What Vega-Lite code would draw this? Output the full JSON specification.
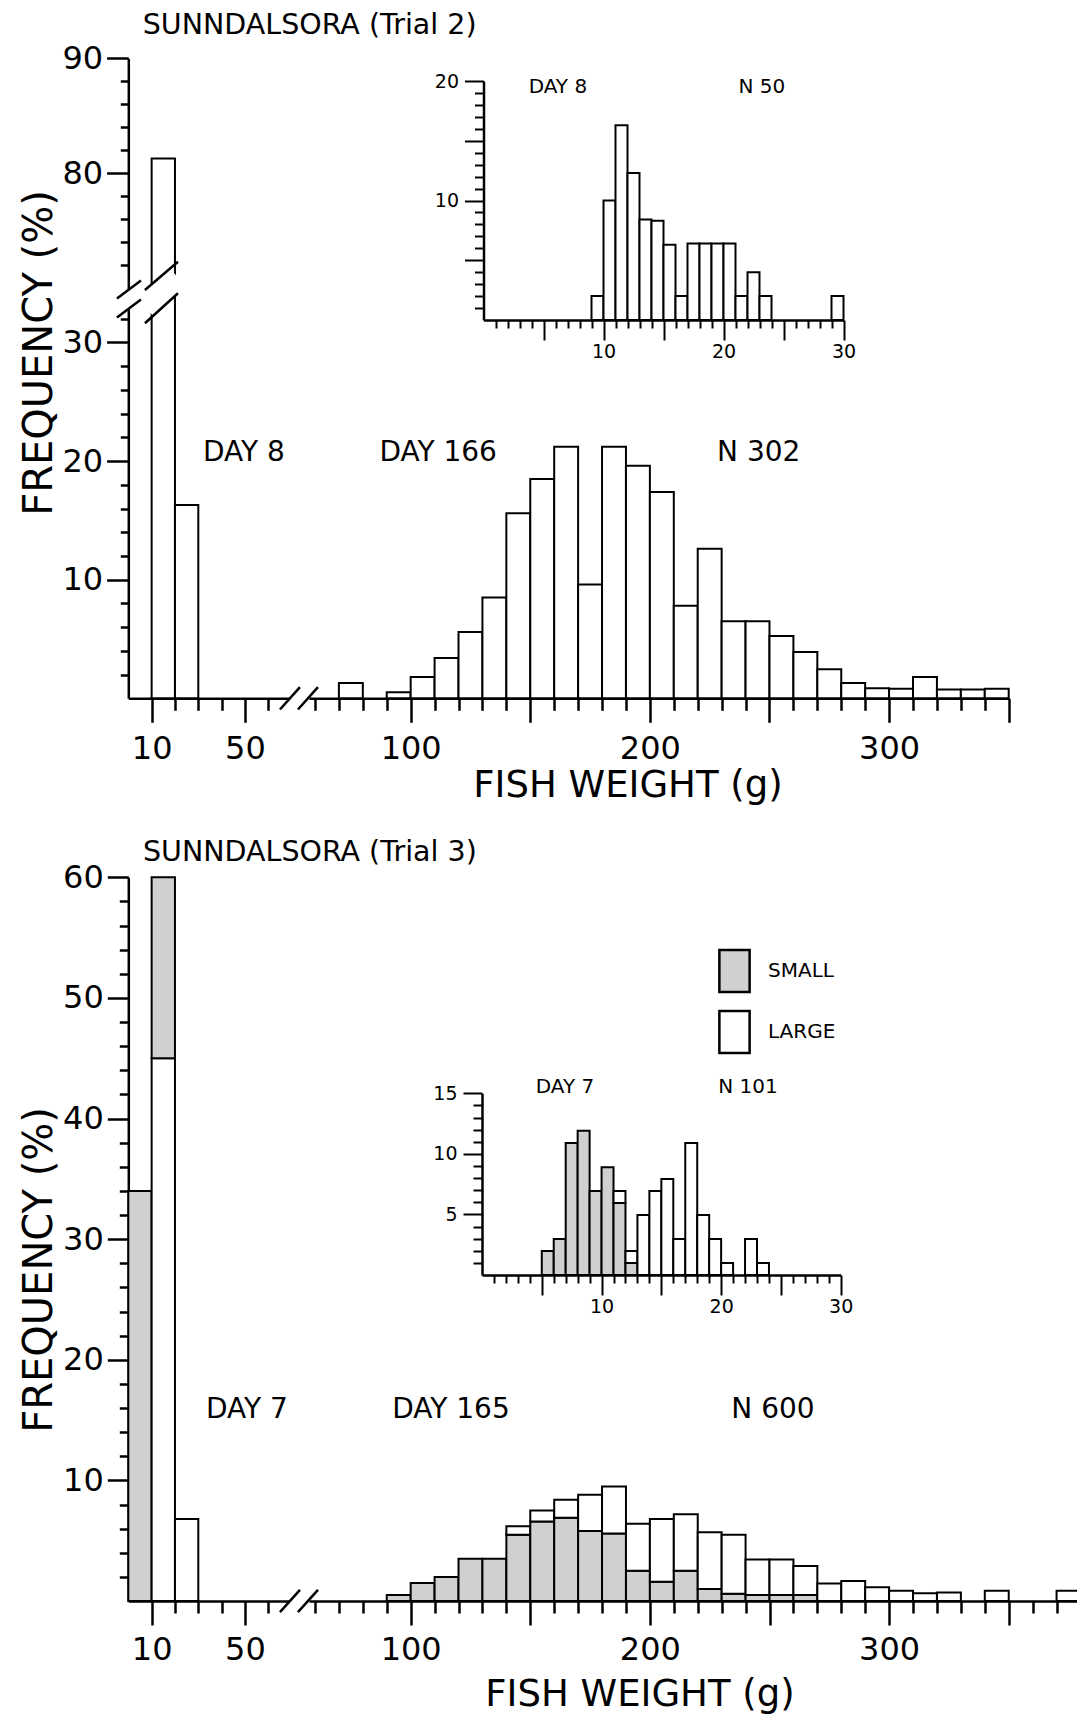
{
  "$schema": "https://vega.github.io/schema/vega-lite/v6.json",
  "width": 1077,
  "height": 1717,
  "autosize": "none",
  "padding": 0,
  "background": "white",
  "config": {
    "view": {"stroke": null},
    "font": "DejaVu Sans",
    "axis": {"domainColor": "black", "domainWidth": 2.5, "tickColor": "black", "tickWidth": 2.5, "labelColor": "black", "labelFont": "DejaVu Sans", "grid": false, "labelFlush": false, "labelOverlap": false, "labelBound": false}
  },
  "datasets": {
    "t2": [
      {"w0": 10, "w1": 20, "pct": 81.3},
      {"w0": 20, "w1": 30, "pct": 16.3},
      {"w0": 70, "w1": 80, "pct": 1.3},
      {"w0": 90, "w1": 100, "pct": 0.5},
      {"w0": 100, "w1": 110, "pct": 1.8},
      {"w0": 110, "w1": 120, "pct": 3.4},
      {"w0": 120, "w1": 130, "pct": 5.6},
      {"w0": 130, "w1": 140, "pct": 8.5},
      {"w0": 140, "w1": 150, "pct": 15.6},
      {"w0": 150, "w1": 160, "pct": 18.5},
      {"w0": 160, "w1": 170, "pct": 21.2},
      {"w0": 170, "w1": 180, "pct": 9.6},
      {"w0": 180, "w1": 190, "pct": 21.2},
      {"w0": 190, "w1": 200, "pct": 19.6},
      {"w0": 200, "w1": 210, "pct": 17.4},
      {"w0": 210, "w1": 220, "pct": 7.8},
      {"w0": 220, "w1": 230, "pct": 12.6},
      {"w0": 230, "w1": 240, "pct": 6.5},
      {"w0": 240, "w1": 250, "pct": 6.5},
      {"w0": 250, "w1": 260, "pct": 5.25},
      {"w0": 260, "w1": 270, "pct": 3.9},
      {"w0": 270, "w1": 280, "pct": 2.45},
      {"w0": 280, "w1": 290, "pct": 1.3},
      {"w0": 290, "w1": 300, "pct": 0.85},
      {"w0": 300, "w1": 310, "pct": 0.8},
      {"w0": 310, "w1": 320, "pct": 1.8},
      {"w0": 320, "w1": 330, "pct": 0.75},
      {"w0": 330, "w1": 340, "pct": 0.75},
      {"w0": 340, "w1": 350, "pct": 0.8}
    ],
    "t2in": [
      {"w0": 9, "w1": 10, "pct": 2},
      {"w0": 10, "w1": 11, "pct": 10},
      {"w0": 11, "w1": 12, "pct": 16.3},
      {"w0": 12, "w1": 13, "pct": 12.3},
      {"w0": 13, "w1": 14, "pct": 8.4},
      {"w0": 14, "w1": 15, "pct": 8.3},
      {"w0": 15, "w1": 16, "pct": 6.3},
      {"w0": 16, "w1": 17, "pct": 2},
      {"w0": 17, "w1": 18, "pct": 6.4},
      {"w0": 18, "w1": 19, "pct": 6.4},
      {"w0": 19, "w1": 20, "pct": 6.4},
      {"w0": 20, "w1": 21, "pct": 6.4},
      {"w0": 21, "w1": 22, "pct": 2},
      {"w0": 22, "w1": 23, "pct": 4},
      {"w0": 23, "w1": 24, "pct": 2},
      {"w0": 29, "w1": 30, "pct": 2}
    ],
    "t3": [
      {"w0": 0, "w1": 10, "grp": "SMALL", "lo": 0, "hi": 34},
      {"w0": 10, "w1": 20, "grp": "LARGE", "lo": 0, "hi": 45},
      {"w0": 10, "w1": 20, "grp": "SMALL", "lo": 45, "hi": 60},
      {"w0": 20, "w1": 30, "grp": "LARGE", "lo": 0, "hi": 6.8},
      {"w0": 90, "w1": 100, "grp": "SMALL", "lo": 0, "hi": 0.5},
      {"w0": 100, "w1": 110, "grp": "SMALL", "lo": 0, "hi": 1.5},
      {"w0": 110, "w1": 120, "grp": "SMALL", "lo": 0, "hi": 2.0},
      {"w0": 120, "w1": 130, "grp": "SMALL", "lo": 0, "hi": 3.5},
      {"w0": 130, "w1": 140, "grp": "SMALL", "lo": 0, "hi": 3.5},
      {"w0": 140, "w1": 150, "grp": "SMALL", "lo": 0, "hi": 5.5},
      {"w0": 140, "w1": 150, "grp": "LARGE", "lo": 5.5, "hi": 6.2},
      {"w0": 150, "w1": 160, "grp": "SMALL", "lo": 0, "hi": 6.6},
      {"w0": 150, "w1": 160, "grp": "LARGE", "lo": 6.6, "hi": 7.5},
      {"w0": 160, "w1": 170, "grp": "SMALL", "lo": 0, "hi": 6.9},
      {"w0": 160, "w1": 170, "grp": "LARGE", "lo": 6.9, "hi": 8.4},
      {"w0": 170, "w1": 180, "grp": "SMALL", "lo": 0, "hi": 5.8},
      {"w0": 170, "w1": 180, "grp": "LARGE", "lo": 5.8, "hi": 8.8},
      {"w0": 180, "w1": 190, "grp": "SMALL", "lo": 0, "hi": 5.6},
      {"w0": 180, "w1": 190, "grp": "LARGE", "lo": 5.6, "hi": 9.5},
      {"w0": 190, "w1": 200, "grp": "SMALL", "lo": 0, "hi": 2.5},
      {"w0": 190, "w1": 200, "grp": "LARGE", "lo": 2.5, "hi": 6.4},
      {"w0": 200, "w1": 210, "grp": "SMALL", "lo": 0, "hi": 1.6},
      {"w0": 200, "w1": 210, "grp": "LARGE", "lo": 1.6, "hi": 6.8},
      {"w0": 210, "w1": 220, "grp": "SMALL", "lo": 0, "hi": 2.5},
      {"w0": 210, "w1": 220, "grp": "LARGE", "lo": 2.5, "hi": 7.2},
      {"w0": 220, "w1": 230, "grp": "SMALL", "lo": 0, "hi": 1.0},
      {"w0": 220, "w1": 230, "grp": "LARGE", "lo": 1.0, "hi": 5.7},
      {"w0": 230, "w1": 240, "grp": "SMALL", "lo": 0, "hi": 0.6},
      {"w0": 230, "w1": 240, "grp": "LARGE", "lo": 0.6, "hi": 5.5},
      {"w0": 240, "w1": 250, "grp": "SMALL", "lo": 0, "hi": 0.5},
      {"w0": 240, "w1": 250, "grp": "LARGE", "lo": 0.5, "hi": 3.45},
      {"w0": 250, "w1": 260, "grp": "SMALL", "lo": 0, "hi": 0.5},
      {"w0": 250, "w1": 260, "grp": "LARGE", "lo": 0.5, "hi": 3.45},
      {"w0": 260, "w1": 270, "grp": "SMALL", "lo": 0, "hi": 0.5},
      {"w0": 260, "w1": 270, "grp": "LARGE", "lo": 0.5, "hi": 2.9},
      {"w0": 270, "w1": 280, "grp": "LARGE", "lo": 0, "hi": 1.45},
      {"w0": 280, "w1": 290, "grp": "LARGE", "lo": 0, "hi": 1.65},
      {"w0": 290, "w1": 300, "grp": "LARGE", "lo": 0, "hi": 1.15},
      {"w0": 300, "w1": 310, "grp": "LARGE", "lo": 0, "hi": 0.85},
      {"w0": 310, "w1": 320, "grp": "LARGE", "lo": 0, "hi": 0.65},
      {"w0": 320, "w1": 330, "grp": "LARGE", "lo": 0, "hi": 0.7},
      {"w0": 340, "w1": 350, "grp": "LARGE", "lo": 0, "hi": 0.85},
      {"w0": 370, "w1": 380, "grp": "LARGE", "lo": 0, "hi": 0.85}
    ],
    "t3in": [
      {"w0": 5, "w1": 6, "grp": "SMALL", "lo": 0, "hi": 1.98},
      {"w0": 6, "w1": 7, "grp": "SMALL", "lo": 0, "hi": 2.97},
      {"w0": 7, "w1": 8, "grp": "SMALL", "lo": 0, "hi": 10.9},
      {"w0": 8, "w1": 9, "grp": "SMALL", "lo": 0, "hi": 11.9},
      {"w0": 9, "w1": 10, "grp": "SMALL", "lo": 0, "hi": 6.93},
      {"w0": 10, "w1": 11, "grp": "SMALL", "lo": 0, "hi": 8.9},
      {"w0": 11, "w1": 12, "grp": "SMALL", "lo": 0, "hi": 5.94},
      {"w0": 11, "w1": 12, "grp": "LARGE", "lo": 5.94, "hi": 6.93},
      {"w0": 12, "w1": 13, "grp": "SMALL", "lo": 0, "hi": 0.99},
      {"w0": 12, "w1": 13, "grp": "LARGE", "lo": 0.99, "hi": 1.98},
      {"w0": 13, "w1": 14, "grp": "LARGE", "lo": 0, "hi": 4.95},
      {"w0": 14, "w1": 15, "grp": "LARGE", "lo": 0, "hi": 6.93},
      {"w0": 15, "w1": 16, "grp": "LARGE", "lo": 0, "hi": 7.92},
      {"w0": 16, "w1": 17, "grp": "LARGE", "lo": 0, "hi": 2.97},
      {"w0": 17, "w1": 18, "grp": "LARGE", "lo": 0, "hi": 10.9},
      {"w0": 18, "w1": 19, "grp": "LARGE", "lo": 0, "hi": 4.95},
      {"w0": 19, "w1": 20, "grp": "LARGE", "lo": 0, "hi": 2.97},
      {"w0": 20, "w1": 21, "grp": "LARGE", "lo": 0, "hi": 0.99},
      {"w0": 22, "w1": 23, "grp": "LARGE", "lo": 0, "hi": 2.97},
      {"w0": 23, "w1": 24, "grp": "LARGE", "lo": 0, "hi": 0.99}
    ]
  },
  "layer": [
    {
      "data": {"name": "t2"},
      "transform": [{"filter": "datum.w1 <= 60"}],
      "mark": {"type": "rect", "fill": "white", "stroke": "black", "strokeWidth": 2},
      "encoding": {
        "x": {"field": "w0", "type": "quantitative", "scale": {"domain": [0, 69], "range": [128.3, 289.3], "nice": false, "zero": false},
          "axis": {"orient": "bottom", "offset": -1018.7, "title": null, "values": [10, 20, 30, 40, 50, 60],
            "tickSize": {"condition": {"test": "datum.value === 10 || datum.value === 50", "value": 24}, "value": 12},
            "labelExpr": "datum.value === 10 || datum.value === 50 ? datum.label : ''", "labelFontSize": 32, "labelPadding": 11}},
        "x2": {"field": "w1"},
        "y": {"field": "pct", "type": "quantitative", "scale": {"domain": [0, 34.13], "range": [698.3, 293.5], "clamp": true, "nice": false, "zero": false},
          "axis": {"orient": "left", "offset": -128.3, "title": null, "values": [2, 4, 6, 8, 10, 12, 14, 16, 18, 20, 22, 24, 26, 28, 30, 32],
            "tickSize": {"condition": {"test": "datum.value % 10 === 0", "value": 21.7}, "value": 8},
            "labelExpr": "datum.value % 10 === 0 ? datum.label : ''", "labelFontSize": 32, "labelPadding": 4}},
        "y2": {"datum": 0}
      }
    },
    {
      "data": {"name": "t2"},
      "transform": [{"filter": "datum.w1 <= 60 && datum.pct > 40"}],
      "mark": {"type": "rect", "fill": "white", "stroke": "black", "strokeWidth": 2},
      "encoding": {
        "x": {"field": "w0", "type": "quantitative", "scale": {"domain": [0, 69], "range": [128.3, 289.3], "nice": false, "zero": false}, "axis": null},
        "x2": {"field": "w1"},
        "y": {"field": "pct", "type": "quantitative", "scale": {"domain": [70, 90], "range": [288.5, 58.3], "clamp": true, "nice": false, "zero": false},
          "axis": {"orient": "left", "offset": -128.3, "title": null, "values": [72, 74, 76, 78, 80, 82, 84, 86, 88, 90],
            "tickSize": {"condition": {"test": "datum.value % 10 === 0", "value": 21.7}, "value": 8},
            "labelExpr": "datum.value % 10 === 0 ? datum.label : ''", "labelFontSize": 32, "labelPadding": 4}},
        "y2": {"datum": 0}
      }
    },
    {
      "data": {"name": "t2"},
      "transform": [{"filter": "datum.w0 >= 60"}],
      "mark": {"type": "rect", "fill": "white", "stroke": "black", "strokeWidth": 2},
      "encoding": {
        "x": {"field": "w0", "type": "quantitative", "scale": {"domain": [57.5, 350], "range": [309.0, 1008.7], "nice": false, "zero": false},
          "axis": {"orient": "bottom", "offset": -1018.7, "title": null, "values": [60, 70, 80, 90, 100, 110, 120, 130, 140, 150, 160, 170, 180, 190, 200, 210, 220, 230, 240, 250, 260, 270, 280, 290, 300, 310, 320, 330, 340, 350],
            "tickSize": {"condition": {"test": "datum.value % 50 === 0", "value": 24}, "value": 12},
            "labelExpr": "datum.value % 100 === 0 ? datum.label : ''", "labelFontSize": 32, "labelPadding": 11}},
        "x2": {"field": "w1"},
        "y": {"field": "pct", "type": "quantitative", "scale": {"domain": [0, 34.13], "range": [698.3, 293.5], "nice": false, "zero": false}, "axis": null},
        "y2": {"datum": 0}
      }
    },
    {
      "data": {"values": [{}]},
      "encoding": {
        "x": {"datum": 0, "type": "quantitative", "scale": {"domain": [57.5, 350], "range": [309.0, 1008.7], "nice": false, "zero": false}, "axis": null},
        "y": {"datum": 0, "type": "quantitative", "scale": {"domain": [0, 34.13], "range": [698.3, 293.5], "nice": false, "zero": false}, "axis": null}
      },
      "layer": [
        {"mark": {"type": "text", "text": "DAY 8", "fontSize": 28, "fill": "black", "align": "center", "baseline": "middle"},
          "encoding": {"x": {"datum": 30.3}, "y": {"datum": 20.68}}},
        {"mark": {"type": "text", "text": "DAY 166", "fontSize": 28, "fill": "black", "align": "center", "baseline": "middle"},
          "encoding": {"x": {"datum": 111.5}, "y": {"datum": 20.68}}},
        {"mark": {"type": "text", "text": "N 302", "fontSize": 28, "fill": "black", "align": "center", "baseline": "middle"},
          "encoding": {"x": {"datum": 245.5}, "y": {"datum": 20.68}}},
        {"mark": {"type": "text", "text": "SUNNDALSORA (Trial 2)", "fontSize": 28.5, "fill": "black", "align": "left", "baseline": "middle"},
          "encoding": {"x": {"datum": -12.0}, "y": {"datum": 56.77}}},
        {"mark": {"type": "text", "text": "FREQUENCY (%)", "fontSize": 40, "fill": "black", "align": "center", "baseline": "middle", "angle": 270},
          "encoding": {"x": {"datum": -55.0}, "y": {"datum": 29.11}}},
        {"mark": {"type": "text", "text": "FISH WEIGHT (g)", "fontSize": 37, "fill": "black", "align": "center", "baseline": "middle"},
          "encoding": {"x": {"datum": 190.84}, "y": {"datum": -7.4}}},
        {"mark": {"type": "rule", "stroke": "white", "strokeWidth": 15, "strokeCap": "butt"},
          "encoding": {"x": {"datum": -22.78}, "y": {"datum": 32.91}, "x2": {"datum": -12.75}, "y2": {"datum": 34.43}}},
        {"mark": {"type": "rule", "stroke": "white", "strokeWidth": 24, "strokeCap": "butt"},
          "encoding": {"x": {"datum": -11.08}, "y": {"datum": 33.02}, "x2": {"datum": 2.72}, "y2": {"datum": 35.48}}},
        {"mark": {"type": "rule", "stroke": "black", "strokeWidth": 2.5},
          "encoding": {"x": {"datum": -22.78}, "y": {"datum": 33.71}, "x2": {"datum": -12.75}, "y2": {"datum": 35.23}}},
        {"mark": {"type": "rule", "stroke": "black", "strokeWidth": 2.5},
          "encoding": {"x": {"datum": -22.78}, "y": {"datum": 32.11}, "x2": {"datum": -12.75}, "y2": {"datum": 33.63}}},
        {"mark": {"type": "rule", "stroke": "black", "strokeWidth": 2.5},
          "encoding": {"x": {"datum": -11.08}, "y": {"datum": 34.43}, "x2": {"datum": 2.72}, "y2": {"datum": 36.81}}},
        {"mark": {"type": "rule", "stroke": "black", "strokeWidth": 2.5},
          "encoding": {"x": {"datum": -11.08}, "y": {"datum": 31.62}, "x2": {"datum": 2.72}, "y2": {"datum": 34.15}}},
        {"mark": {"type": "rule", "stroke": "black", "strokeWidth": 2.5},
          "encoding": {"x": {"datum": 45.36}, "y": {"datum": -0.944}, "x2": {"datum": 53.72}, "y2": {"datum": 0.936}}},
        {"mark": {"type": "rule", "stroke": "black", "strokeWidth": 2.5},
          "encoding": {"x": {"datum": 52.88}, "y": {"datum": -0.944}, "x2": {"datum": 61.25}, "y2": {"datum": 0.936}}}
      ]
    },
    {
      "encoding": {
        "x": {"type": "quantitative", "scale": {"domain": [0, 30], "range": [483.5, 843.5], "nice": false, "zero": false},
          "axis": {"orient": "bottom", "offset": -1397, "title": null, "values": [1, 2, 3, 4, 5, 6, 7, 8, 9, 10, 11, 12, 13, 14, 15, 16, 17, 18, 19, 20, 21, 22, 23, 24, 25, 26, 27, 28, 29, 30],
            "tickSize": {"condition": {"test": "datum.value % 5 === 0", "value": 20}, "value": 8},
            "labelExpr": "datum.value % 10 === 0 ? datum.label : ''", "labelFontSize": 19, "labelPadding": 2, "tickWidth": 2}},
        "y": {"type": "quantitative", "scale": {"domain": [0, 20], "range": [320, 81], "nice": false, "zero": false},
          "axis": {"orient": "left", "offset": -483.5, "title": null, "values": [1, 2, 3, 4, 5, 6, 7, 8, 9, 10, 11, 12, 13, 14, 15, 16, 17, 18, 19, 20],
            "tickSize": {"condition": {"test": "datum.value % 5 === 0", "value": 19}, "value": 9},
            "labelExpr": "datum.value % 10 === 0 ? datum.label : ''", "labelFontSize": 19, "labelPadding": 6, "tickWidth": 2}}
      },
      "layer": [
        {"data": {"name": "t2in"},
          "mark": {"type": "rect", "fill": "white", "stroke": "black", "strokeWidth": 2},
          "encoding": {"x": {"field": "w0"}, "x2": {"field": "w1"}, "y": {"field": "pct"}, "y2": {"datum": 0}}},
        {"data": {"values": [{}]},
          "mark": {"type": "text", "text": "DAY 8", "fontSize": 20, "fill": "black", "align": "center", "baseline": "middle"},
          "encoding": {"x": {"datum": 6.2}, "y": {"datum": 19.5}}},
        {"data": {"values": [{}]},
          "mark": {"type": "text", "text": "N 50", "fontSize": 20, "fill": "black", "align": "center", "baseline": "middle"},
          "encoding": {"x": {"datum": 23.2}, "y": {"datum": 19.5}}}
      ]
    },
    {
      "data": {"name": "t3"},
      "transform": [{"filter": "datum.w1 <= 60"}],
      "mark": {"type": "rect", "stroke": "black", "strokeWidth": 2},
      "encoding": {
        "x": {"field": "w0", "type": "quantitative", "scale": {"domain": [0, 69], "range": [128.3, 289.3], "nice": false, "zero": false},
          "axis": {"orient": "bottom", "offset": -116, "title": null, "values": [10, 20, 30, 40, 50, 60],
            "tickSize": {"condition": {"test": "datum.value === 10 || datum.value === 50", "value": 24}, "value": 12},
            "labelExpr": "datum.value === 10 || datum.value === 50 ? datum.label : ''", "labelFontSize": 32, "labelPadding": 9}},
        "x2": {"field": "w1"},
        "y": {"field": "lo", "type": "quantitative", "scale": {"domain": [0, 60], "range": [1601, 877.3], "nice": false, "zero": false},
          "axis": {"orient": "left", "offset": -128.3, "title": null, "values": [2, 4, 6, 8, 10, 12, 14, 16, 18, 20, 22, 24, 26, 28, 30, 32, 34, 36, 38, 40, 42, 44, 46, 48, 50, 52, 54, 56, 58, 60],
            "tickSize": {"condition": {"test": "datum.value % 10 === 0", "value": 21}, "value": 9},
            "labelExpr": "datum.value % 10 === 0 ? datum.label : ''", "labelFontSize": 32, "labelPadding": 4}},
        "y2": {"field": "hi"},
        "fill": {"field": "grp", "type": "nominal", "scale": {"domain": ["SMALL", "LARGE"], "range": ["#d0d0d0", "white"]},
          "legend": {"orient": "none", "legendX": 712, "legendY": 948.5, "title": null, "direction": "vertical", "symbolType": "M-0.72,-1H0.72V1H-0.72Z", "symbolSize": 1764, "symbolStrokeColor": "black", "symbolStrokeWidth": 2.5, "labelFontSize": 20, "labelFont": "DejaVu Sans", "labelColor": "black", "labelOffset": 11, "rowPadding": 8, "padding": 0}}
      }
    },
    {
      "data": {"name": "t3"},
      "transform": [{"filter": "datum.w0 >= 60"}],
      "mark": {"type": "rect", "stroke": "black", "strokeWidth": 2},
      "encoding": {
        "x": {"field": "w0", "type": "quantitative", "scale": {"domain": [57.5, 378.5], "range": [309.0, 1076.9], "nice": false, "zero": false},
          "axis": {"orient": "bottom", "offset": -116, "title": null, "values": [60, 70, 80, 90, 100, 110, 120, 130, 140, 150, 160, 170, 180, 190, 200, 210, 220, 230, 240, 250, 260, 270, 280, 290, 300, 310, 320, 330, 340, 350, 360, 370],
            "tickSize": {"condition": {"test": "datum.value % 50 === 0", "value": 24}, "value": 12},
            "labelExpr": "datum.value % 100 === 0 ? datum.label : ''", "labelFontSize": 32, "labelPadding": 9}},
        "x2": {"field": "w1"},
        "y": {"field": "lo", "type": "quantitative", "scale": {"domain": [0, 60], "range": [1601, 877.3], "nice": false, "zero": false}, "axis": null},
        "y2": {"field": "hi"},
        "fill": {"field": "grp", "type": "nominal", "scale": {"domain": ["SMALL", "LARGE"], "range": ["#d0d0d0", "white"]},
          "legend": {"orient": "none", "legendX": 712, "legendY": 948.5, "title": null, "direction": "vertical", "symbolType": "M-0.72,-1H0.72V1H-0.72Z", "symbolSize": 1764, "symbolStrokeColor": "black", "symbolStrokeWidth": 2.5, "labelFontSize": 20, "labelFont": "DejaVu Sans", "labelColor": "black", "labelOffset": 11, "rowPadding": 8, "padding": 0}}
      }
    },
    {
      "data": {"values": [{}]},
      "encoding": {
        "x": {"datum": 0, "type": "quantitative", "scale": {"domain": [57.5, 378.5], "range": [309.0, 1076.9], "nice": false, "zero": false}, "axis": null},
        "y": {"datum": 0, "type": "quantitative", "scale": {"domain": [0, 60], "range": [1601, 877.3], "nice": false, "zero": false}, "axis": null}
      },
      "layer": [
        {"mark": {"type": "text", "text": "DAY 7", "fontSize": 28, "fill": "black", "align": "center", "baseline": "middle"},
          "encoding": {"x": {"datum": 31.56}, "y": {"datum": 15.84}}},
        {"mark": {"type": "text", "text": "DAY 165", "fontSize": 28, "fill": "black", "align": "center", "baseline": "middle"},
          "encoding": {"x": {"datum": 116.85}, "y": {"datum": 15.84}}},
        {"mark": {"type": "text", "text": "N 600", "fontSize": 28, "fill": "black", "align": "center", "baseline": "middle"},
          "encoding": {"x": {"datum": 251.46}, "y": {"datum": 15.84}}},
        {"mark": {"type": "text", "text": "SUNNDALSORA (Trial 3)", "fontSize": 28.5, "fill": "black", "align": "left", "baseline": "middle"},
          "encoding": {"x": {"datum": -11.9}, "y": {"datum": 62.11}}},
        {"mark": {"type": "text", "text": "FREQUENCY (%)", "fontSize": 40, "fill": "black", "align": "center", "baseline": "middle", "angle": 270},
          "encoding": {"x": {"datum": -55.0}, "y": {"datum": 27.45}}},
        {"mark": {"type": "text", "text": "FISH WEIGHT (g)", "fontSize": 37, "fill": "black", "align": "center", "baseline": "middle"},
          "encoding": {"x": {"datum": 195.86}, "y": {"datum": -7.79}}},
        {"mark": {"type": "rule", "stroke": "black", "strokeWidth": 2.5},
          "encoding": {"x": {"datum": 45.36}, "y": {"datum": -0.929}, "x2": {"datum": 53.72}, "y2": {"datum": 0.92}}},
        {"mark": {"type": "rule", "stroke": "black", "strokeWidth": 2.5},
          "encoding": {"x": {"datum": 52.88}, "y": {"datum": -0.929}, "x2": {"datum": 61.25}, "y2": {"datum": 0.92}}}
      ]
    },
    {
      "encoding": {
        "x": {"type": "quantitative", "scale": {"domain": [0, 30], "range": [482, 840.7], "nice": false, "zero": false},
          "axis": {"orient": "bottom", "offset": -442, "title": null, "values": [1, 2, 3, 4, 5, 6, 7, 8, 9, 10, 11, 12, 13, 14, 15, 16, 17, 18, 19, 20, 21, 22, 23, 24, 25, 26, 27, 28, 29, 30],
            "tickSize": {"condition": {"test": "datum.value % 5 === 0", "value": 20}, "value": 8},
            "labelExpr": "datum.value % 10 === 0 ? datum.label : ''", "labelFontSize": 19, "labelPadding": 2, "tickWidth": 2}},
        "y": {"type": "quantitative", "scale": {"domain": [0, 15], "range": [1275, 1093.3], "nice": false, "zero": false},
          "axis": {"orient": "left", "offset": -482, "title": null, "values": [1, 2, 3, 4, 5, 6, 7, 8, 9, 10, 11, 12, 13, 14, 15],
            "tickSize": {"condition": {"test": "datum.value % 5 === 0", "value": 19}, "value": 9},
            "labelExpr": "datum.value % 5 === 0 ? datum.label : ''", "labelFontSize": 19, "labelPadding": 6, "tickWidth": 2}}
      },
      "layer": [
        {"data": {"name": "t3in"},
          "mark": {"type": "rect", "stroke": "black", "strokeWidth": 2},
          "encoding": {"x": {"field": "w0"}, "x2": {"field": "w1"}, "y": {"field": "lo"}, "y2": {"field": "hi"},
            "fill": {"field": "grp", "type": "nominal", "scale": {"domain": ["SMALL", "LARGE"], "range": ["#d0d0d0", "white"]},
              "legend": {"orient": "none", "legendX": 712, "legendY": 948.5, "title": null, "direction": "vertical", "symbolType": "M-0.72,-1H0.72V1H-0.72Z", "symbolSize": 1764, "symbolStrokeColor": "black", "symbolStrokeWidth": 2.5, "labelFontSize": 20, "labelFont": "DejaVu Sans", "labelColor": "black", "labelOffset": 11, "rowPadding": 8, "padding": 0}}}},
        {"data": {"values": [{}]},
          "mark": {"type": "text", "text": "DAY 7", "fontSize": 20, "fill": "black", "align": "center", "baseline": "middle"},
          "encoding": {"x": {"datum": 6.94}, "y": {"datum": 15.54}}},
        {"data": {"values": [{}]},
          "mark": {"type": "text", "text": "N 101", "fontSize": 20, "fill": "black", "align": "center", "baseline": "middle"},
          "encoding": {"x": {"datum": 22.25}, "y": {"datum": 15.54}}}
      ]
    }
  ],
  "resolve": {"scale": {"x": "independent", "y": "independent"}, "axis": {"x": "independent", "y": "independent"}}
}
